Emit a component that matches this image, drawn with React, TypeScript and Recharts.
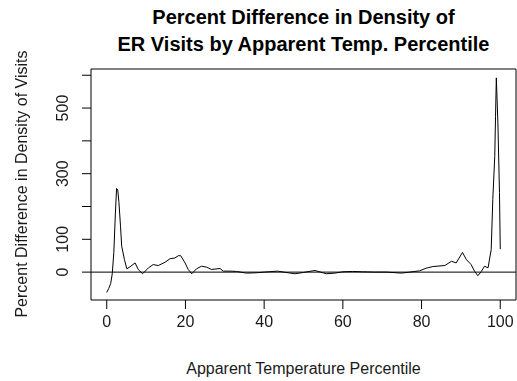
import { LineChart, Line, XAxis, YAxis, ReferenceLine, ReferenceArea } from 'recharts';

// apparent temperature percentile (x) and percent difference in density (y)
const percentile = [
  0, 0.5, 1, 1.4, 1.8, 2.2, 2.5, 2.8, 3.1, 3.5, 3.8, 4.5, 5.1, 5.9, 7.2, 8.0, 9.1, 10.6, 11.8, 13.1,
  14.8, 16.1, 17.3, 18.2, 18.8, 19.9, 20.7, 21.6, 22.8, 24.1, 25.4, 26.6, 28.8, 29.6, 31.3, 33, 35.5,
  38, 40, 43.4, 45, 47.8, 50, 52.9, 55.8, 58, 60, 62.5, 65, 68, 71, 74.9, 77, 79.5, 81.2, 82.9, 85.9,
  87.6, 88.8, 90.4, 91.4, 92.6, 93.5, 94.3, 95.2, 96.0, 96.9, 97.7, 98.1, 98.6, 98.8, 99.0, 99.4, 99.8, 100,
];
const pctDiff = [
  -62, -50, -35, -5, 60, 180, 255, 250, 212, 140, 79, 38, 10, 16, 28, 8, -5, 13, 23, 20,
  30, 41, 43, 50, 50, 28, 8, -5, 10, 18, 15, 8, 11, 3, 3, 2, -3,
  -2, 0, 3, 0, -5, -1, 5, -5, -3, 1, 2, 1, 0, 0, -3, 0, 4, 12, 17, 20,
  33, 28, 60, 38, 23, 2, -11, 2, 18, 13, 69, 221, 353, 475, 592, 455, 242, 70,
];

const xTicks = [0, 20, 40, 60, 80, 100];
const yTicks = [0, 100, 200, 300, 400, 500, 600];
const yLabels = [0, 100, 300, 500];

const data = percentile.map((x, i) => ({ x, y: pctDiff[i] }));

const FONT = '"Liberation Sans", Arial, sans-serif';
const TXT = '#1a1a1a';

const YTick = (props: any) => {
  const { x, y, payload } = props;
  if (!yLabels.includes(payload.value)) return <g />;
  return (
    <text
      x={x}
      y={y}
      transform={`rotate(-90 ${x} ${y})`}
      textAnchor="middle"
      fontSize={16}
      fontFamily={FONT}
      fill={TXT}
    >
      {payload.value}
    </text>
  );
};

export default function App() {
  return (
    <div style={{ position: 'fixed', left: 0, top: 0, width: 517, height: 381, background: '#fff', fontFamily: FONT }}>
      <div style={{ position: 'absolute', left: 0, width: 607, top: 4, textAlign: 'center', fontWeight: 'bold', fontSize: 20, lineHeight: '27px', color: '#000' }}>
        Percent Difference in Density of
        <br />
        ER Visits by Apparent Temp. Percentile
      </div>
      <div style={{ position: 'absolute', left: 0, width: 607, top: 360, textAlign: 'center', fontSize: 16, color: TXT }}>
        Apparent Temperature Percentile
      </div>
      <div style={{ position: 'absolute', left: 22, top: 185, width: 0, height: 0 }}>
        <div style={{ position: 'absolute', left: -200, top: -10, width: 400, textAlign: 'center', fontSize: 16, color: TXT, transform: 'rotate(-90deg)', whiteSpace: 'nowrap' }}>
          Percent Difference in Density of Visits
        </div>
      </div>
      <LineChart width={517} height={381} data={data} margin={{ top: 69, right: 1, bottom: 0, left: 0 }}>
        <XAxis
          dataKey="x"
          type="number"
          domain={[-4, 104]}
          ticks={xTicks}
          allowDataOverflow
          height={81}
          axisLine={false}
          tickSize={9}
          tickMargin={7}
          tickLine={{ stroke: '#000' }}
          tick={{ fontSize: 16, fontFamily: FONT, fill: TXT }}
        />
        <YAxis
          type="number"
          domain={[-85, 619]}
          ticks={yTicks}
          allowDataOverflow
          width={91}
          axisLine={false}
          tickSize={9}
          tickMargin={14}
          tickLine={{ stroke: '#000' }}
          tick={<YTick />}
        />
        <ReferenceArea x1={-4} x2={104} y1={-85} y2={619} fill="none" stroke="#000" strokeWidth={1} ifOverflow="visible" />
        <ReferenceLine y={0} stroke="#000" strokeWidth={1} />
        <Line type="linear" dataKey="y" stroke="#000" strokeWidth={1} dot={false} isAnimationActive={false} />
      </LineChart>
    </div>
  );
}
